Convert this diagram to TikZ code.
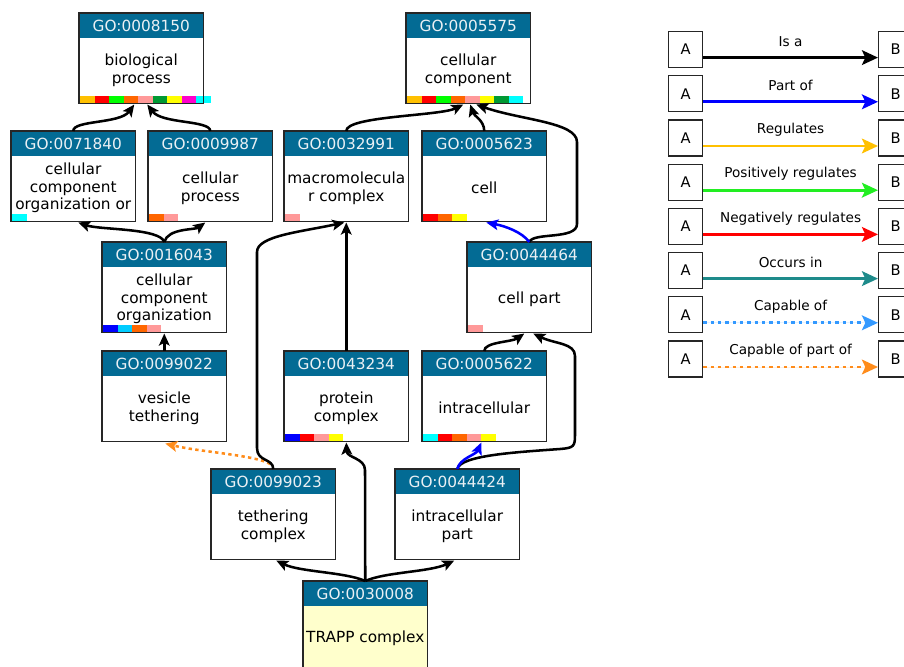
\documentclass[tikz,border=0pt]{standalone}
\usepackage{fontspec}
\setmainfont{DejaVu Sans}
\usetikzlibrary{arrows.meta,calc}
\definecolor{headblue}{HTML}{036B94}
\definecolor{headtext}{HTML}{EAF0F4}
\definecolor{trappfill}{HTML}{FFFFCC}
\definecolor{cgold}{HTML}{FFC000}
\definecolor{cred}{HTML}{FF0000}
\definecolor{cgreen}{HTML}{00FF00}
\definecolor{corange}{HTML}{FF6600}
\definecolor{cpink}{HTML}{FF9999}
\definecolor{cdkgreen}{HTML}{009933}
\definecolor{cyellow}{HTML}{FFFF00}
\definecolor{cmagenta}{HTML}{FF00CC}
\definecolor{ccyan}{HTML}{00FFFF}
\definecolor{cblue}{HTML}{0000FF}
\definecolor{csky}{HTML}{00CCFF}
\definecolor{lpos}{HTML}{22EE22}
\definecolor{lteal}{HTML}{1E8B8B}
\definecolor{lcap}{HTML}{3399FF}
\definecolor{lcappart}{HTML}{FF8C1A}
\tikzset{
  gobody/.style={fill=white, minimum width=93pt, minimum height=67.5pt, inner sep=0pt, anchor=north west},
  gohead/.style={fill=headblue, text=headtext, minimum width=93pt, minimum height=18.75pt, inner sep=0pt, anchor=north west, font=\fontsize{11.5}{13}\selectfont},
  gotext/.style={align=center, inner sep=0pt, font=\fontsize{11.5}{13.2}\selectfont},
  goborder/.style={draw=black!85, line width=1.1pt},
  isa/.style={draw=black, line width=1.9pt, -{Stealth[length=9pt,width=8pt,inset=2pt]}},
  partof/.style={draw=cblue, line width=1.9pt, -{Stealth[length=9pt,width=8pt,inset=2pt]}},
  cappartof/.style={draw=lcappart, line width=1.9pt, dash pattern=on 2.5pt off 2.5pt, -{Stealth[length=9pt,width=8pt,inset=2pt]}},
  legbox/.style={draw=black!85, line width=0.9pt, minimum width=25.5pt, minimum height=27pt, inner sep=0pt, font=\fontsize{11}{12}\selectfont},
  leglab/.style={inner sep=0pt, font=\fontsize{10.2}{12}\selectfont},
  legarrow/.style={line width=2.1pt, -{Stealth[length=12pt,width=11pt,inset=2.5pt]}},
  ldot/.style={dash pattern=on 2.5pt off 3pt}
}
\newcommand\gobox[6]{%
  \node[gobody, fill=#6] (#1) at (#2,#3) {};
  \node[gohead] (#1h) at (#2,#3) {#4};
  \node[gotext] (#1t) at ($(#1.north)+(0,57)$) {#5};
}
\newcommand\gobar[2]{%
  \foreach \c [count=\i from 0] in {#2} {
    \fill[\c] ($(#1.south west)+(\i*14.5+1,-7.5)$) rectangle ++(14.5,6.5);
  }
}
\newcommand\goframe[1]{\draw[goborder] (#1.north west) rectangle (#1.south east);}
\begin{document}
\begin{tikzpicture}[x=0.75pt,y=-0.75pt]
\clip (0,0) rectangle (904,667);
\fill[white] (0,0) rectangle (904,667);

% ---- GO nodes
\gobox{bp}{79}{13}{GO:0008150}{biological\\process}{white}
\gobar{bp}{cgold,cred,cgreen,corange,cpink,cdkgreen,cyellow,cmagenta,ccyan}
\goframe{bp}
\gobox{cc}{406}{13}{GO:0005575}{cellular\\component}{white}
\gobar{cc}{cgold,cred,cgreen,corange,cpink,cyellow,cdkgreen,ccyan}
\goframe{cc}
\gobox{cco}{11}{131}{GO:0071840}{cellular\\component\\organization or}{white}
\gobar{cco}{ccyan}
\goframe{cco}
\gobox{cp}{148}{131}{GO:0009987}{cellular\\process}{white}
\gobar{cp}{corange,cpink}
\goframe{cp}
\gobox{mc}{284}{131}{GO:0032991}{macromolecula\\r complex}{white}
\gobar{mc}{cpink}
\goframe{mc}
\gobox{cell}{422}{131}{GO:0005623}{cell}{white}
\gobar{cell}{cred,corange,cyellow}
\goframe{cell}
\gobox{ccb}{102}{242}{GO:0016043}{cellular\\component\\organization}{white}
\gobar{ccb}{cblue,csky,corange,cpink}
\goframe{ccb}
\gobox{cpart}{467}{242}{GO:0044464}{cell part}{white}
\gobar{cpart}{cpink}
\goframe{cpart}
\gobox{vt}{102}{351}{GO:0099022}{vesicle\\tethering}{white}
\goframe{vt}
\gobox{pc}{284}{351}{GO:0043234}{protein\\complex}{white}
\gobar{pc}{cblue,cred,cpink,cyellow}
\goframe{pc}
\gobox{ic}{422}{351}{GO:0005622}{intracellular}{white}
\gobar{ic}{ccyan,cred,corange,cpink,cyellow}
\goframe{ic}
\gobox{tc}{211}{469}{GO:0099023}{tethering\\complex}{white}
\goframe{tc}
\gobox{icp}{395}{469}{GO:0044424}{intracellular\\part}{white}
\goframe{icp}
\gobox{trapp}{303}{581}{GO:0030008}{TRAPP complex}{trappfill}
\goframe{trapp}

% ---- edges
\draw[isa] (cco.north) .. controls (73,120) and (120,124) .. ($(bp.south)+(-7,1)$);
\draw[isa] (cp.north) .. controls (210,120) and (162,124) .. ($(bp.south)+(6,1)$);
\draw[isa] (mc.north) .. controls (346,116) and (440,116) .. ($(cc.south)+(-5,1)$);
\draw[isa] (cell.north) .. controls (484,120) and (474,116) .. ($(cc.south)+(2,1)$);
\draw[isa] (cpart.north) .. controls (533,232) and (577,240) .. (577,224) -- (577,142) .. controls (577,122) and (520,120) .. ($(cc.south)+(8,1)$);
\draw[partof] (cpart.north) .. controls (522,232) and (505,226) .. ($(cell.south)+(2,1)$);
\draw[isa] (ccb.north) .. controls (160,228) and (100,230) .. ($(cco.south)+(5,1)$);
\draw[isa] (ccb.north) .. controls (168,228) and (195,230) .. ($(cp.south)+(-5,1)$);
\draw[isa] (vt.north) -- ($(ccb.south)+(0,1)$);
\draw[cappartof] ($(tc.north)+(-3,-5)$) .. controls (255,455) and (200,452) .. ($(vt.south)+(1,2)$);
\draw[isa] (tc.north) .. controls (273,458) and (257,462) .. (257,448) -- (257,252) .. controls (257,236) and (300,232) .. ($(mc.south)+(-2,1)$);
\draw[isa] (pc.north) -- ($(mc.south)+(0,1)$);
\draw[isa] (ic.north) .. controls (484,342) and (512,342) .. ($(cpart.south)+(-5,1)$);
\draw[isa] (icp.north) .. controls (460,455) and (520,452) .. (560,449) .. controls (574,448) and (575,446) .. (575,435) -- (575,356) .. controls (575,343) and (555,344) .. ($(cpart.south)+(4,1)$);
\draw[partof] (icp.north) .. controls (460,458) and (476,455) .. ($(ic.south)+(-3,1)$);
\draw[isa] (trapp.north) .. controls (345,572) and (300,572) .. ($(tc.south)+(3,1)$);
\draw[isa] (trapp.north) -- (365,470) .. controls (365,458) and (347,458) .. ($(pc.south)+(0,1)$);
\draw[isa] (trapp.north) .. controls (385,572) and (430,572) .. ($(icp.south)+(-3,1)$);

% ---- legend
\foreach \lab/\col/\dsh [count=\i from 0] in {Is a/black/solid, Part of/cblue/solid, Regulates/cgold/solid, Positively regulates/lpos/solid, Negatively regulates/cred/solid, Occurs in/lteal/solid, Capable of/lcap/ldot, Capable of part of/lcappart/ldot} {
  \node[legbox, anchor=north west] (la\i) at (668, 31+44.2*\i) {A};
  \node[legbox, anchor=north west] (lb\i) at (878, 31+44.2*\i) {B};
  \draw[legarrow, draw=\col, fill=\col, \dsh] ($(la\i.east)+(0,8)$) -- ($(lb\i.west)+(0,8)$);
  \node[leglab] (ll\i) at ($(la\i.east)!0.5!(lb\i.west)+(0,-8)$) {\lab};
}
\end{tikzpicture}
\end{document}
